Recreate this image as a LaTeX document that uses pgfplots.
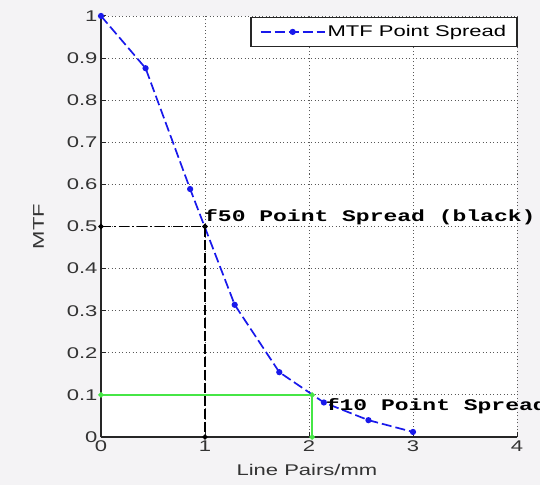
\documentclass[border=0pt]{standalone}
\usepackage{pgfplots}
\pgfplotsset{compat=1.18}
\usepackage{fontspec}
\setmainfont{Liberation Sans}[FakeStretch=1.42]
\newfontfamily\courb{Liberation Mono}[FakeStretch=1.42]
\definecolor{bgc}{RGB}{244,243,245}
\definecolor{mblue}{RGB}{25,25,235}
\definecolor{mgreen}{RGB}{70,230,70}
\pgfplotstableread{
x y
0 1
0.4286 0.876
0.8571 0.589
1.2857 0.314
1.7143 0.154
2.1429 0.082
2.5714 0.040
3.0 0.012
}\mtf
\begin{document}
\begin{tikzpicture}
\fill[bgc] (-101pt,-48pt) rectangle (439pt,437pt);
\begin{axis}[
  at={(0pt,0pt)}, anchor=south west,
  width=416pt, height=421pt, scale only axis,
  xmin=0, xmax=4, ymin=0, ymax=1,
  xtick={0,1,2,3,4},
  ytick={0,0.1,0.2,0.3,0.4,0.5,0.6,0.7,0.8,0.9,1},
  axis lines*=left,
  axis line style={line width=1.4pt, black!85, -},
  tick align=inside, major tick length=5pt,
  tick style={black!85, line width=1pt},
  xtick pos=left, ytick pos=left,
  grid=major,
  major grid style={black!65, line width=0.9pt, dash pattern=on 1pt off 2.5pt},
  axis background/.style={fill=white},
  /pgf/number format/assume math mode=true,
  tick label style={font=\fontsize{15.5}{18}\selectfont, text=black!80},
  xlabel={Line Pairs/mm}, ylabel={MTF},
  label style={font=\fontsize{15.5}{18}\selectfont, text=black!80},
  xlabel style={at={(axis description cs:0.495,-0.078)}, anchor=center},
  ylabel style={at={(axis description cs:-0.15,0.5)}, anchor=center},
  clip=false,
  legend style={at={(axis description cs:1.002,0.998)}, anchor=north east,
    draw=black!85, line width=1.4pt, fill=white,
    font=\fontsize{15.5}{18}\selectfont, inner xsep=9pt, inner ysep=6pt},
  legend cell align=left,
  legend image code/.code={\draw[mark repeat=2,mark phase=2,#1] plot coordinates {(0pt,0pt) (32pt,0pt) (64pt,0pt)};},
]
\addplot[mblue, line width=1.7pt, dash pattern=on 10pt off 4pt, mark=*, mark size=2.2pt, mark options={solid}] table[x=x,y=y] {\mtf};
\addlegendentry{MTF Point Spread}
\addplot[black, line width=1.4pt, dash pattern=on 10pt off 3pt on 2pt off 3pt, mark=*, mark size=1.8pt, mark options={solid}, forget plot] coordinates {(0,0.5) (1,0.5)};
\addplot[black, line width=1.4pt, dash pattern=on 10pt off 3pt, mark=*, mark size=1.8pt, mark options={solid}, forget plot] coordinates {(1,0.5) (1,0)};
\addplot[mgreen, line width=1.7pt, mark=*, mark size=1.8pt, forget plot] coordinates {(0,0.1) (2.03,0.1) (2.03,0)};
\node[anchor=west, inner sep=0pt, font=\courb\bfseries\fontsize{16.2}{18}\selectfont] at (axis cs:0.99,0.523) {f50 Point Spread (black)};
\node[anchor=west, inner sep=0pt, font=\courb\bfseries\fontsize{16.2}{18}\selectfont] at (axis cs:2.16,0.073) {f10 Point Spread};
\end{axis}
\pgfresetboundingbox
\path (-101pt,-48pt) rectangle (439pt,437pt);
\end{tikzpicture}
\end{document}
